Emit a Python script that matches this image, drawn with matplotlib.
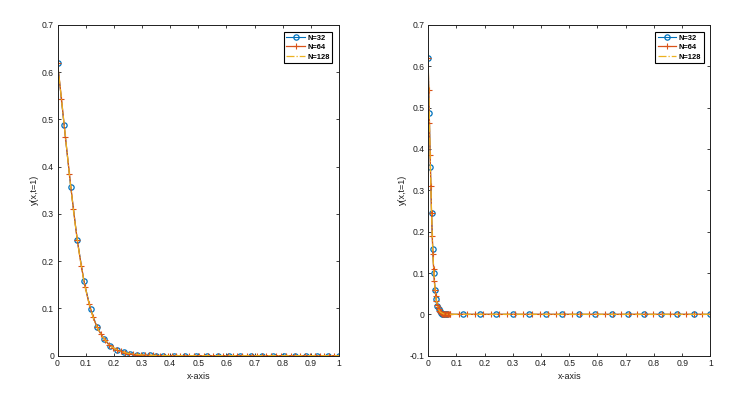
import numpy as np
import matplotlib
matplotlib.use('Agg')
from matplotlib import pyplot as plt
from matplotlib.ticker import FormatStrFormatter

plt.rcParams['font.family'] = ['Liberation Sans', 'DejaVu Sans']

# 값 : y 는 두 그림 공통, x 메쉬만 다름
y32 = [0.620, 0.488, 0.357, 0.244, 0.158, 0.099, 0.060, 0.036, 0.021, 0.012,
       0.007, 0.004, 0.002, 0.001, 0.0006, 0.0003, 0.0001,
       0, 0, 0, 0, 0, 0, 0, 0, 0, 0, 0, 0, 0, 0, 0, 0]

y64 = [0.620, 0.543, 0.462, 0.385, 0.311, 0.244, 0.190, 0.145, 0.109, 0.081,
       0.060, 0.045, 0.033, 0.023, 0.017, 0.012, 0.009, 0.006, 0.0045, 0.003,
       0.002, 0.0015, 0.001, 0.0007, 0.0005, 0.0003, 0.0002, 0.0001, 0.0001, 0,
       0, 0, 0,
       0, 0, 0, 0, 0, 0, 0, 0, 0, 0, 0, 0, 0, 0, 0, 0,
       0, 0, 0, 0, 0, 0, 0, 0, 0, 0, 0, 0, 0, 0, 0, 0]

y128 = [0.620, 0.534, 0.445, 0.357, 0.279, 0.213, 0.157, 0.117, 0.084, 0.060,
        0.043, 0.031, 0.021, 0.015, 0.010, 0.005, 0.001, 0.0002, 0, 0, 0]

# left plot mesh
x32_l = [0, 0.0234, 0.0469, 0.0703, 0.0938, 0.1172, 0.1406, 0.1641, 0.1875, 0.2109,
         0.2344, 0.2578, 0.2813, 0.3047, 0.3281, 0.3516, 0.375,
         0.4141, 0.4531, 0.4922, 0.5313, 0.5703, 0.6094, 0.6484, 0.6875, 0.7266,
         0.7656, 0.8047, 0.8438, 0.8828, 0.9219, 0.9609, 1.0]

x64_l = [0, 0.0141, 0.0281, 0.0422, 0.0563, 0.0703, 0.0844, 0.0984, 0.1125, 0.1266,
         0.1406, 0.1547, 0.1688, 0.1828, 0.1969, 0.2109, 0.225, 0.2391, 0.2531, 0.2672,
         0.2813, 0.2953, 0.3094, 0.3234, 0.3375, 0.3516, 0.3656, 0.3797, 0.3938, 0.4078,
         0.4219, 0.4359, 0.45,
         0.4672, 0.4844, 0.5016, 0.5188, 0.5359, 0.5531, 0.5703, 0.5875, 0.6047, 0.6219,
         0.6391, 0.6563, 0.6734, 0.6906, 0.7078, 0.725, 0.7422, 0.7594, 0.7766, 0.7938,
         0.8109, 0.8281, 0.8453, 0.8625, 0.8797, 0.8969, 0.9141, 0.9313, 0.9484, 0.9656,
         0.9828, 1.0]

x128_l = [0, 0.0156, 0.0313, 0.0469, 0.0625, 0.0781, 0.0938, 0.1094, 0.125, 0.1406,
          0.1563, 0.1719, 0.1875, 0.2031, 0.2188, 0.25, 0.3125, 0.375, 0.5, 0.75, 1.0]

# right plot mesh
x32_r = [0, 0.0041, 0.0083, 0.0124, 0.0165, 0.0206, 0.0248, 0.0289, 0.033, 0.0371,
         0.0413, 0.0454, 0.0495, 0.0536, 0.0578, 0.0619, 0.066,
         0.1244, 0.1828, 0.2411, 0.2995, 0.3579, 0.4163, 0.4746, 0.533, 0.5914,
         0.6498, 0.7081, 0.7665, 0.8249, 0.8833, 0.9416, 1.0]

x64_r = [0, 0.0025, 0.0049, 0.0074, 0.0099, 0.0123, 0.0148, 0.0173, 0.0198, 0.0222,
         0.0247, 0.0272, 0.0296, 0.0321, 0.0346, 0.037, 0.0395, 0.042, 0.0444, 0.0469,
         0.0494, 0.0518, 0.0543, 0.0568, 0.0593, 0.0617, 0.0642, 0.0667, 0.0691, 0.0716,
         0.0741, 0.0765, 0.079,
         0.1078, 0.1366, 0.1653, 0.1941, 0.2229, 0.2517, 0.2805, 0.3093, 0.338, 0.3668,
         0.3956, 0.4244, 0.4532, 0.4819, 0.5107, 0.5395, 0.5683, 0.5971, 0.6259, 0.6546,
         0.6834, 0.7122, 0.741, 0.7698, 0.7985, 0.8273, 0.8561, 0.8849, 0.9137, 0.9424,
         0.9712, 1.0]

x128_r = [0, 0.0028, 0.0055, 0.0083, 0.011, 0.0138, 0.0165, 0.0193, 0.022, 0.0248,
          0.0275, 0.0303, 0.033, 0.0358, 0.0385, 0.044, 0.055, 0.066, 0.092, 0.5, 1.0]

xticks = [0, 0.1, 0.2, 0.3, 0.4, 0.5, 0.6, 0.7, 0.8, 0.9, 1]
yticks_l = [0, 0.1, 0.2, 0.3, 0.4, 0.5, 0.6, 0.7]
yticks_r = [-0.1, 0, 0.1, 0.2, 0.3, 0.4, 0.5, 0.6, 0.7]

blue = '#0072BD'
orange = '#D95319'
yellow = '#EDB120'
dark = '#1f1f1f'

fig = plt.figure(figsize=(7.51, 3.98), dpi=100)
ax1 = fig.add_axes([0.0766, 0.1063, 0.3748, 0.831])
ax2 = fig.add_axes([0.570, 0.1063, 0.3759, 0.831])


def draw(ax, x32, x64, x128, ylim, yticks):
    ax.plot(x32, y32, '-o', color=blue, lw=0.8, ms=3.8, mfc='none', mew=0.9, label='N=32')
    ax.plot(x64, y64, '-+', color=orange, lw=0.9, ms=4.6, mew=0.8, label='N=64')
    ax.plot(x128, y128, '-.', color=yellow, lw=0.9, label='N=128')
    ax.set_xlim(0, 1)
    ax.set_ylim(ylim)
    ax.set_xticks(xticks)
    ax.set_yticks(yticks)
    ax.xaxis.set_major_formatter(FormatStrFormatter('%g'))
    ax.yaxis.set_major_formatter(FormatStrFormatter('%g'))
    ax.tick_params(direction='in', top=True, right=True, length=2.5, width=0.6,
                   labelsize=6.2, colors=dark, pad=2.5)
    for s in ax.spines.values():
        s.set_linewidth(0.7)
        s.set_color(dark)
    ax.set_xlabel('x-axis', fontsize=6.5, color=dark, labelpad=3)
    ax.set_ylabel('y(x,t=1)', fontsize=6.5, color=dark, labelpad=2)
    leg = ax.legend(loc='upper right', fontsize=5.4, fancybox=False, framealpha=1,
                    edgecolor='black', handlelength=2.5, borderpad=0.35,
                    labelspacing=0.3, handletextpad=0.3, borderaxespad=0.9)
    leg.get_frame().set_linewidth(0.8)
    for t in leg.get_texts():
        t.set_fontweight('bold')


draw(ax1, x32_l, x64_l, x128_l, (0, 0.7), yticks_l)
draw(ax2, x32_r, x64_r, x128_r, (-0.1, 0.7), yticks_r)

plt.savefig('out.png', dpi=100)
